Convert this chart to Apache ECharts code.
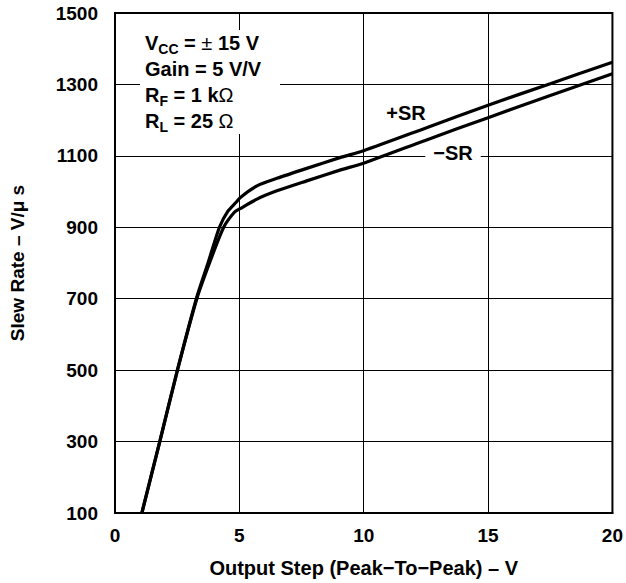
<!DOCTYPE html>
<html>
<head>
<meta charset="utf-8">
<script src="https://cdn.jsdelivr.net/npm/echarts@6/dist/echarts.min.js"></script>
<style>html,body{margin:0;padding:0;background:#fff;}#c{width:626px;height:583px;}</style>
</head>
<body>
<div id="c"></div>
<script>
// Output step (V) and slew rate (V/us)
const xPlus  = [1.08, 1.8, 2.51, 3.27, 3.74, 4.2, 4.54, 4.87, 5.03, 5.71, 6.51, 7.71, 9.04, 10.02, 12.5, 15, 17.5, 20];
const yPlus  = [100, 300, 500, 700, 800, 900, 945, 970, 983, 1016, 1037, 1065, 1095, 1115, 1178, 1242, 1302, 1362];
const xMinus = [1.08, 1.8, 2.51, 3.29, 3.8, 4.37, 4.8, 5.03, 5.71, 6.51, 7.71, 9.04, 10.02, 12.5, 15, 17.5, 20];
const yMinus = [100, 300, 500, 700, 800, 900, 942, 952, 979, 1002, 1030, 1060, 1080, 1144, 1207, 1269, 1330];
const xTicks = [0, 5, 10, 15, 20];
const yTicks = [100, 300, 500, 700, 900, 1100, 1300, 1500];

const FONT = 'Liberation Sans, Arial, Helvetica, sans-serif';
const chart = echarts.init(document.getElementById('c'), null, {renderer: 'svg'});
const pairs = (xs, ys) => xs.map((x, i) => [x, ys[i]]);

chart.setOption({
  animation: false,
  backgroundColor: '#fff',
  grid: {left: 113, right: 12, top: 13, bottom: 70, show: true, borderColor: '#000', borderWidth: 2, backgroundColor: 'transparent'},
  xAxis: {
    type: 'value', min: xTicks[0], max: xTicks[xTicks.length - 1], interval: 5,
    name: 'Output Step (Peak\u2212To\u2212Peak) \u2013 V', nameLocation: 'middle', nameGap: 45,
    nameTextStyle: {fontFamily: FONT, fontWeight: 'bold', fontSize: 20, color: '#000'},
    axisLine: {show: true, lineStyle: {color: '#000', width: 2}},
    axisTick: {show: false},
    axisLabel: {fontFamily: FONT, fontWeight: 'bold', fontSize: 19, color: '#000', margin: 13,
                formatter: v => String(v)},
    splitLine: {show: true, lineStyle: {color: '#000', width: 1}}
  },
  yAxis: {
    type: 'value', min: yTicks[0], max: yTicks[yTicks.length - 1], interval: 200,
    name: 'Slew Rate \u2013 V/\u03bc s', nameLocation: 'middle', nameGap: 88,
    nameTextStyle: {fontFamily: FONT, fontWeight: 'bold', fontSize: 19, color: '#000'},
    axisLine: {show: true, lineStyle: {color: '#000', width: 2}},
    axisTick: {show: false},
    axisLabel: {fontFamily: FONT, fontWeight: 'bold', fontSize: 19, color: '#000', margin: 17, padding: [5, 0, 0, 0],
                formatter: v => String(v)},
    splitLine: {show: true, lineStyle: {color: '#000', width: 1}}
  },
  series: [
    {name: '+SR', type: 'line', data: pairs(xPlus, yPlus), smooth: 0.25, showSymbol: false,
     lineStyle: {color: '#000', width: 3.2}, z: 5},
    {name: '\u2212SR', type: 'line', data: pairs(xMinus, yMinus), smooth: 0.25, showSymbol: false,
     lineStyle: {color: '#000', width: 3.2}, z: 5}
  ],
  graphic: [
    {type: 'text', left: 140, top: 30, z: 100,
     style: {
       text: '{b|V}{s|CC}{b| = }{n|\u00b1}{b| 15 V}\n{b|Gain = 5 V/V}\n{b|R}{s|F}{b| = 1 k}{n|\u03a9}\n{b|R}{s|L}{b| = 25 }{n|\u03a9}',
       width: 135, padding: [0, 0, 0, 5], backgroundColor: '#fff',
       rich: {
         b: {fontFamily: FONT, fontWeight: 'bold', fontSize: 20, lineHeight: 26, fill: '#000'},
         n: {fontFamily: FONT, fontWeight: 'normal', fontSize: 20, lineHeight: 26, fill: '#000'},
         s: {fontFamily: FONT, fontWeight: 'bold', fontSize: 14, lineHeight: 14, verticalAlign: 'bottom', fill: '#000'}
       }
     }},
    {type: 'text', x: 406, y: 113, z: 100,
     style: {text: '+SR', fontFamily: FONT, fontWeight: 'bold', fontSize: 20, fill: '#000', align: 'center', verticalAlign: 'middle'}},
    {type: 'text', x: 453, y: 153, z: 100,
     style: {text: '\u2212SR', fontFamily: FONT, fontWeight: 'bold', fontSize: 20, fill: '#000', align: 'center', verticalAlign: 'middle',
             backgroundColor: '#fff', padding: [0, 8, 0, 8]}}
  ]
});
</script>
</body>
</html>
